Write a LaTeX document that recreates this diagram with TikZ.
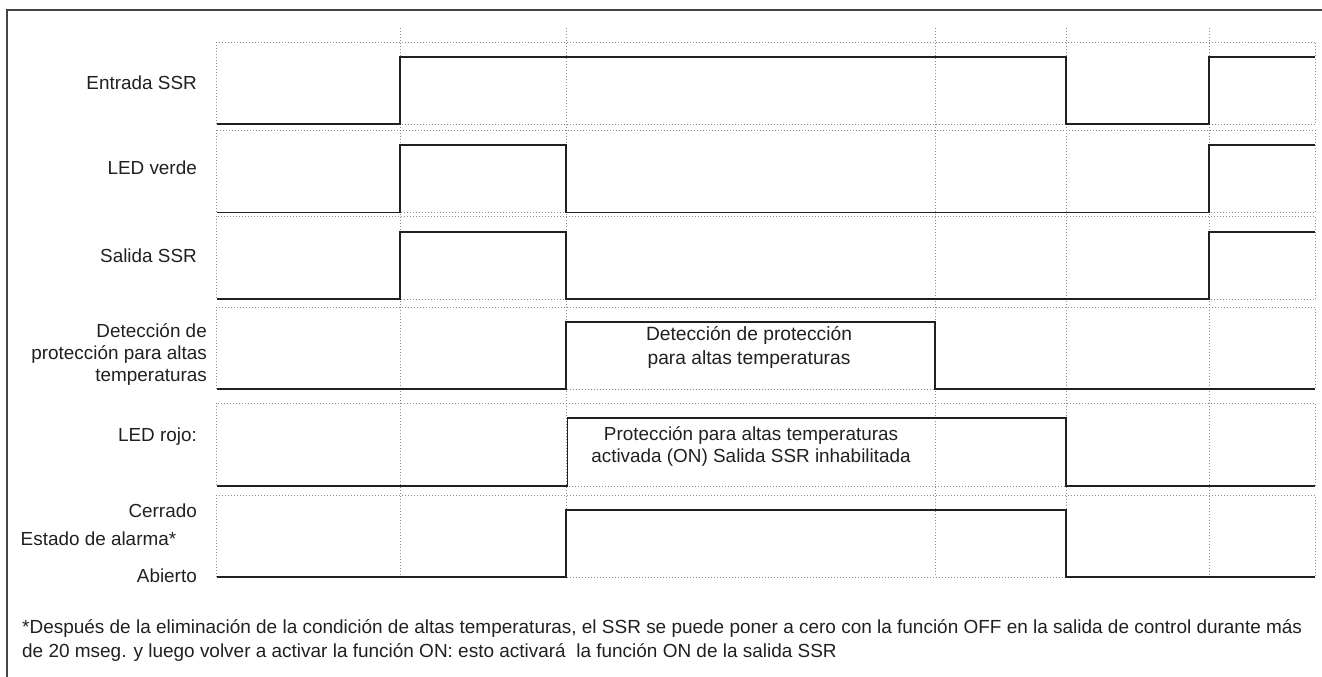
\documentclass[tikz,border=0pt]{standalone}
\usepackage{fontspec}
\setmainfont{Liberation Sans}
\definecolor{ink}{HTML}{231F20}
\definecolor{gridc}{HTML}{8A8A8A}
\definecolor{framec}{HTML}{444444}
\newlength\myfootw
\newcommand\myfootA{*Después de la eliminación de la condición de altas temperaturas, el SSR se puede poner a cero con la función OFF en la salida de control durante más}
\newcommand\myfootB{de 20 mseg. y luego volver a activar la función ON: esto activará\ \ la función ON de la salida SSR}
\newcommand\myfootfs{20}
\begin{document}
\begin{tikzpicture}[x=1pt,y=-1pt,
  lbl/.style={inner sep=0pt,text=ink,font=\fontsize{18.9}{22}\selectfont},
  foot/.style={inner sep=0pt,text=ink,font=\fontsize{20}{24}\selectfont,anchor=base west},
  sig/.style={draw=ink,line width=1.6pt,line join=miter},
  gridline/.style={draw=gridc,line width=0.8pt,dash pattern=on 1pt off 2pt},
  frameline/.style={draw=framec,line width=1.5pt}]
\useasboundingbox (0,0) rectangle (1322,677);
% outer frame (top and left visible)
\draw[frameline] (7,677) -- (7,10) -- (1322,10);
% row boxes
\foreach \t/\b in {42/124,130/212.5,216/299,307/389,403/486,495/577}{
  \draw[gridline] (216.5,\t) rectangle (1315,\b);
}
% vertical time lines
\foreach \x in {400,566,935,1066,1209}{
  \draw[gridline] (\x,28) -- (\x,577);
}
% signals
\draw[sig] (216.5,124) -- (400,124) -- (400,57) -- (1066,57) -- (1066,124) -- (1209,124) -- (1209,57) -- (1315,57);
\draw[sig] (216.5,212.5) -- (400,212.5) -- (400,145) -- (566,145) -- (566,212.5) -- (1209,212.5) -- (1209,145) -- (1315,145);
\draw[sig] (216.5,299) -- (400,299) -- (400,231.7) -- (566,231.7) -- (566,299) -- (1209,299) -- (1209,231.7) -- (1315,231.7);
\draw[sig] (216.5,389) -- (566,389) -- (566,322) -- (935,322) -- (935,389) -- (1315,389);
\draw[sig] (216.5,486) -- (567.5,486) -- (567.5,418) -- (1066,418) -- (1066,486) -- (1315,486);
\draw[sig] (216.5,577) -- (566,577) -- (566,510) -- (1066,510) -- (1066,577) -- (1315,577);
% row labels
\node[lbl,anchor=east] (l1) at (197,83) {Entrada SSR};
\node[lbl,anchor=east] (l2) at (197,168) {LED verde};
\node[lbl,anchor=east] (l3) at (197,256) {Salida SSR};
\node[lbl,anchor=east,align=right] (l4) at (207,354) {Detección de\\protección para altas\\temperaturas};
\node[lbl,anchor=east] (l5) at (197,437) {LED rojo:};
\node[lbl,anchor=east] (l6a) at (197,511) {Cerrado};
\node[lbl,anchor=west] (l6b) at (20.5,539) {Estado de alarma*};
\node[lbl,anchor=east] (l6c) at (197,576) {Abierto};
% inner labels
\node[lbl,align=center,font=\fontsize{19.2}{24}\selectfont] (t4) at (749,347) {Detección de protección\\para altas temperaturas};
\node[lbl,align=center] (t5) at (751,446) {Protección para altas temperaturas\\activada (ON) Salida SSR inhabilitada};
% footnote (first line fitted to the reference width)
\node[foot] (f1) at (22,633) {\settowidth\myfootw{\myfootA}\pgfmathsetmacro\mytmpfs{1280/\myfootw*20}\xdef\myfootfs{\mytmpfs}\fontsize{\myfootfs}{24}\selectfont\myfootA};
\node[foot] (f2) at (22,657) {\fontsize{\myfootfs}{24}\selectfont\myfootB};
\end{tikzpicture}
\end{document}
